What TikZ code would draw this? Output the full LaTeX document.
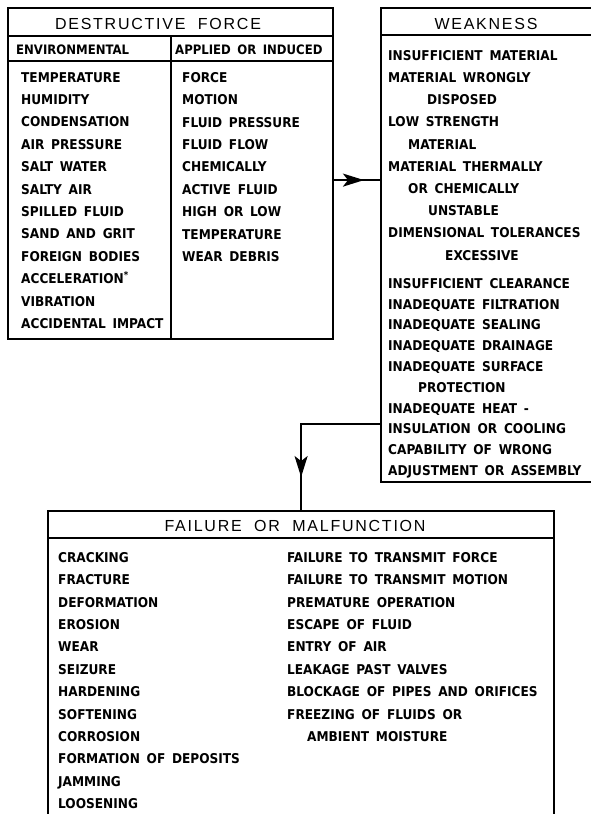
\documentclass[tikz,border=0pt]{standalone}
\usepackage{fontspec}
\setmainfont{Liberation Sans}
\newfontfamily\lettering{DejaVu Sans Condensed}[WordSpace=1.6]
\newfontfamily\titling{Liberation Sans}[LetterSpace=11]
\usetikzlibrary{arrows.meta,decorations.markings}

\begin{document}
\begin{tikzpicture}[
  x=1pt, y=-1pt,
  box/.style={draw, line width=2.2pt, anchor=north west, inner sep=0pt},
  rule/.style={line width=2.2pt},
  title/.style={font=\titling\fontsize{16}{18}\selectfont, inner sep=0pt},
  head/.style={font=\lettering\bfseries\fontsize{13}{15}\selectfont, anchor=west, inner sep=0pt},
  list/.style={font=\lettering\bfseries\fontsize{13.5}{#1}\selectfont, align=left, anchor=north west, inner sep=0pt},
  list/.default=22.4,
  flow/.style={line width=2.2pt, postaction={decorate},
    decoration={markings, mark=at position #1 with {\arrow{Stealth[length=21pt,width=13pt,inset=5pt]}}}}
]
\useasboundingbox (0,0) rectangle (591,814);

% boxes
\node[box, minimum width=325pt, minimum height=331pt] (force) at (7,7) {};
\node[box, minimum width=240pt, minimum height=474pt] (weak) at (380,7) {};
\node[box, minimum width=506pt, minimum height=330pt] (fail) at (47,510) {};

\draw[rule] ([yshift=-29pt]force.north west) -- ([yshift=-29pt]force.north east);
\draw[rule] ([yshift=-54pt]force.north west) -- ([yshift=-54pt]force.north east);
\draw[rule] ([xshift=164pt,yshift=-29pt]force.north west) -- ([xshift=164pt]force.south west);
\draw[rule] ([yshift=-28pt]weak.north west) -- ([yshift=-28pt]weak.north east);
\draw[rule] ([yshift=-28pt]fail.north west) -- ([yshift=-28pt]fail.north east);

% titles
\node[title] (forcetitle) at (158,24) {DESTRUCTIVE\ \ FORCE};
\node[title] (weaktitle) at (486,24) {WEAKNESS};
\node[title] (failtitle) at (295,526) {FAILURE\ \ OR\ \ MALFUNCTION};

\node[head] (envhead) at (16,50) {ENVIRONMENTAL};
\node[head] (apphead) at (175,50) {APPLIED OR INDUCED};

% lists
\node[list] (envlist) at (21,72) {TEMPERATURE\\HUMIDITY\\CONDENSATION\\AIR PRESSURE\\SALT WATER\\SALTY AIR\\SPILLED FLUID\\SAND AND GRIT\\FOREIGN BODIES\\ACCELERATION\textsuperscript{*}\\VIBRATION\\ACCIDENTAL IMPACT};
\node[list] (applist) at (182,72) {FORCE\\MOTION\\FLUID PRESSURE\\FLUID FLOW\\CHEMICALLY\\ACTIVE FLUID\\HIGH OR LOW\\TEMPERATURE\\WEAR DEBRIS};

\node[list=22.2] (weaklistA) at (388,50) {INSUFFICIENT MATERIAL\\MATERIAL WRONGLY\\\hspace*{39pt}DISPOSED\\LOW STRENGTH\\\hspace*{20pt}MATERIAL\\MATERIAL THERMALLY\\\hspace*{20pt}OR CHEMICALLY\\\hspace*{40pt}UNSTABLE\\DIMENSIONAL TOLERANCES\\\hspace*{57pt}EXCESSIVE};
\node[list=20.8] (weaklistB) at (388,278) {INSUFFICIENT CLEARANCE\\INADEQUATE FILTRATION\\INADEQUATE SEALING\\INADEQUATE DRAINAGE\\INADEQUATE SURFACE\\\hspace*{30pt}PROTECTION\\INADEQUATE HEAT -\\INSULATION OR COOLING\\CAPABILITY OF WRONG\\ADJUSTMENT OR ASSEMBLY};

\node[list] (faillistA) at (58,552) {CRACKING\\FRACTURE\\DEFORMATION\\EROSION\\WEAR\\SEIZURE\\HARDENING\\SOFTENING\\CORROSION\\FORMATION OF DEPOSITS\\JAMMING\\LOOSENING};
\node[list] (faillistB) at (287,552) {FAILURE TO TRANSMIT FORCE\\FAILURE TO TRANSMIT MOTION\\PREMATURE OPERATION\\ESCAPE OF FLUID\\ENTRY OF AIR\\LEAKAGE PAST VALVES\\BLOCKAGE OF PIPES AND ORIFICES\\FREEZING OF FLUIDS OR\\\hspace*{20pt}AMBIENT MOISTURE};

% connectors
\draw[flow=0.65] ([yshift=-6.5pt]force.east) -- ([yshift=-6.5pt]force.east -| weak.west);
\draw[flow=0.80] ([yshift=59pt]weak.south west) -| (fail.north);
\end{tikzpicture}
\end{document}
